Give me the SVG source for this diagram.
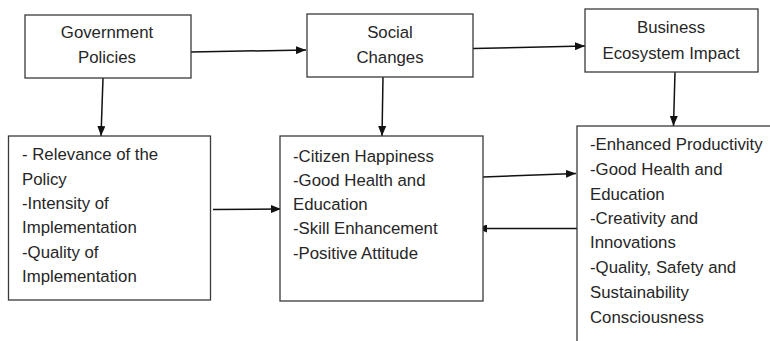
<svg xmlns="http://www.w3.org/2000/svg" width="770" height="341" viewBox="0 0 770 341">
<style>
.box{fill:#fff;stroke:#3a3a3a;stroke-width:1.3}
.t{font-family:"Liberation Sans",Arial,sans-serif;font-size:16.8px;fill:#262626}
.c{text-anchor:middle}
.ln{stroke:#111;stroke-width:1.5;fill:none}
</style>
<defs>
<marker id="ah" viewBox="0 0 10 8" refX="10" refY="4" markerWidth="10" markerHeight="8" markerUnits="userSpaceOnUse" orient="auto">
<path d="M0,0 L10,4 L0,8 Z" fill="#111"/>
</marker>
</defs>
<g id="connectors">
<line class="ln" x1="191" y1="52" x2="306" y2="50" marker-end="url(#ah)"/>
<line class="ln" x1="473" y1="48.5" x2="585" y2="46" marker-end="url(#ah)"/>
<line class="ln" x1="103" y1="78" x2="101" y2="136" marker-end="url(#ah)"/>
<line class="ln" x1="383" y1="77" x2="382" y2="136" marker-end="url(#ah)"/>
<line class="ln" x1="675" y1="72" x2="673.5" y2="126" marker-end="url(#ah)"/>
<line class="ln" x1="213" y1="209.5" x2="281" y2="209" marker-end="url(#ah)"/>
<line class="ln" x1="483" y1="177" x2="576" y2="173.5" marker-end="url(#ah)"/>
<line class="ln" x1="577" y1="228.5" x2="477" y2="228.5" marker-end="url(#ah)"/>
</g>
<g id="gov">
<rect class="box" x="25" y="15" width="166" height="63"/>
<text class="t c" x="107" y="38">Government</text>
<text class="t c" x="107" y="63">Policies</text>
</g>
<g id="social">
<rect class="box" x="307" y="14" width="166" height="63"/>
<text class="t c" x="390" y="38">Social</text>
<text class="t c" x="390" y="63">Changes</text>
</g>
<g id="business">
<rect class="box" x="585" y="9" width="173" height="63"/>
<text class="t c" x="671" y="33">Business</text>
<text class="t c" x="671" y="58.5">Ecosystem Impact</text>
</g>
<g id="policy-factors">
<rect class="box" x="8.5" y="136" width="202" height="164"/>
<text class="t" x="22" y="160">- Relevance of the</text>
<text class="t" x="22" y="184.5">Policy</text>
<text class="t" x="22" y="208.5">-Intensity of</text>
<text class="t" x="22" y="233.3">Implementation</text>
<text class="t" x="22" y="257.5">-Quality of</text>
<text class="t" x="22" y="282.3">Implementation</text>
</g>
<g id="social-outcomes">
<rect class="box" x="280" y="136" width="203" height="165"/>
<text class="t" x="293" y="161.5">-Citizen Happiness</text>
<text class="t" x="293" y="185.5">-Good Health and</text>
<text class="t" x="293" y="210">Education</text>
<text class="t" x="293" y="234">-Skill Enhancement</text>
<text class="t" x="293" y="258.5">-Positive Attitude</text>
</g>
<g id="business-outcomes">
<rect class="box" x="577" y="126" width="220" height="240"/>
<text class="t" x="590" y="150">-Enhanced Productivity</text>
<text class="t" x="590" y="174.5">-Good Health and</text>
<text class="t" x="590" y="199.5">Education</text>
<text class="t" x="590" y="223.5">-Creativity and</text>
<text class="t" x="590" y="248.3">Innovations</text>
<text class="t" x="590" y="273.3">-Quality, Safety and</text>
<text class="t" x="590" y="297.7">Sustainability</text>
<text class="t" x="590" y="322.5">Consciousness</text>
</g>
</svg>
